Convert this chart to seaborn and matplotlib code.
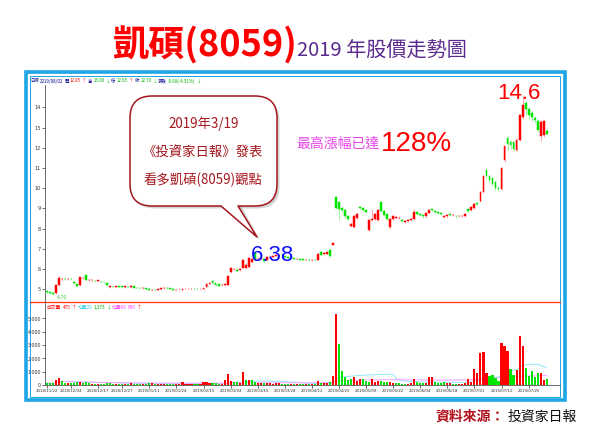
import numpy as np
import pandas as pd
import matplotlib
matplotlib.use("Agg")
import matplotlib.pyplot as plt
import seaborn as sns
from matplotlib.patches import FancyBboxPatch, Rectangle, Polygon
from matplotlib.lines import Line2D

# ---------------- data ----------------
holidays = ["2018-12-31", "2019-01-01", "2019-01-31", "2019-02-01", "2019-02-04",
            "2019-02-05", "2019-02-06", "2019-02-07", "2019-02-08", "2019-02-28",
            "2019-03-01", "2019-04-04", "2019-04-05", "2019-05-01", "2019-06-07"]
trade_dates = pd.bdate_range("2018-11-22", "2019-08-02").difference(pd.to_datetime(holidays))

opens = [4.90, 4.85, 4.82, 4.80, 5.22, 5.50, 5.52, 5.50, 5.52, 5.35,
         5.25, 5.20, 5.55, 5.70, 5.45, 5.44, 5.43, 5.42, 5.38, 5.35,
         5.30, 5.12, 5.13, 5.12, 5.14, 5.15, 5.10, 5.13, 5.10, 5.15,
         5.08, 5.06, 5.05, 5.05, 5.02, 4.95, 4.97, 4.98, 5.00, 5.05,
         5.07, 5.04, 5.02, 4.98, 4.99, 4.98, 5.01, 5.02, 5.03, 5.03,
         5.03, 5.00, 5.00, 5.13, 5.28, 5.43, 5.30, 5.25, 5.20, 5.20,
         5.22, 5.85, 6.00, 5.97, 5.95, 6.05, 6.05, 6.10, 6.35, 6.78,
         6.48, 6.52, 6.50, 6.45, 6.60, 6.62, 6.66, 6.68, 6.70, 6.65,
         6.60, 6.58, 6.55, 6.50, 6.50, 6.48, 6.45, 6.47, 6.44, 6.46,
         6.45, 6.85, 6.74, 6.76, 6.95, 7.20, 9.55, 9.30, 9.00, 8.93,
         8.60, 8.15, 8.10, 8.55, 9.05, 9.00, 8.93, 7.95, 8.45, 8.50,
         8.45, 9.30, 8.85, 8.70, 8.10, 8.50, 8.55, 8.52, 8.45, 8.35,
         8.38, 8.45, 8.50, 8.80, 8.70, 8.65, 8.60, 8.75, 8.95, 8.88,
         8.80, 8.75, 8.58, 8.60, 8.72, 8.65, 8.63, 8.60, 8.60, 8.62,
         8.95, 8.90, 9.00, 9.25, 9.35, 9.80, 10.90, 10.60, 10.50, 10.30,
         10.00, 9.95, 11.40, 12.50, 12.30, 12.30, 11.90, 12.40, 13.50, 14.20,
         13.90, 13.70, 13.45, 13.30, 12.60, 12.65, 12.85]
closes = [4.85, 4.82, 4.78, 5.20, 5.55, 5.53, 5.50, 5.53, 5.50, 5.30,
          5.15, 5.60, 5.57, 5.47, 5.46, 5.47, 5.42, 5.44, 5.37, 5.34,
          5.20, 5.15, 5.12, 5.14, 5.11, 5.10, 5.15, 5.12, 5.18, 5.08,
          5.07, 5.05, 5.06, 5.00, 4.97, 4.97, 4.96, 5.00, 5.05, 5.08,
          5.05, 5.02, 4.98, 4.98, 5.00, 5.01, 5.02, 5.03, 5.03, 5.02,
          5.00, 5.01, 5.05, 5.28, 5.32, 5.30, 5.20, 5.18, 5.22, 5.25,
          5.65, 6.05, 6.02, 5.90, 6.00, 6.45, 6.20, 6.55, 6.50, 6.45,
          6.52, 6.56, 6.38, 6.60, 6.62, 6.65, 6.70, 6.72, 6.68, 6.58,
          6.55, 6.55, 6.50, 6.51, 6.47, 6.45, 6.46, 6.43, 6.46, 6.45,
          6.75, 6.70, 6.78, 6.82, 6.65, 7.28, 9.00, 8.95, 8.90, 8.60,
          8.50, 8.22, 8.60, 8.70, 9.00, 8.92, 8.80, 8.45, 8.50, 8.70,
          8.90, 8.85, 8.65, 8.50, 8.50, 8.60, 8.58, 8.55, 8.40, 8.38,
          8.42, 8.50, 8.80, 8.70, 8.65, 8.60, 8.75, 8.90, 8.90, 8.80,
          8.75, 8.70, 8.62, 8.65, 8.68, 8.67, 8.60, 8.62, 8.63, 8.70,
          8.88, 9.05, 9.20, 9.20, 9.80, 10.60, 10.60, 10.40, 10.20, 10.00,
          9.95, 11.00, 12.10, 12.20, 12.15, 11.95, 12.40, 13.60, 14.10, 13.90,
          13.60, 13.50, 13.35, 12.90, 13.25, 13.30, 12.70]
highs = [4.92, 4.87, 4.84, 5.22, 5.65, 5.58, 5.56, 5.56, 5.55, 5.40,
         5.28, 5.63, 5.62, 5.72, 5.50, 5.50, 5.46, 5.47, 5.41, 5.38,
         5.32, 5.18, 5.16, 5.17, 5.16, 5.17, 5.18, 5.16, 5.20, 5.17,
         5.10, 5.08, 5.09, 5.07, 5.04, 5.00, 4.99, 5.03, 5.08, 5.10,
         5.09, 5.06, 5.04, 5.01, 5.02, 5.03, 5.04, 5.05, 5.06, 5.05,
         5.05, 5.03, 5.07, 5.30, 5.36, 5.45, 5.32, 5.27, 5.25, 5.28,
         5.67, 6.08, 6.05, 5.99, 6.03, 6.48, 6.30, 6.58, 6.55, 6.80,
         6.58, 6.60, 6.55, 6.63, 6.66, 6.70, 6.74, 6.76, 6.73, 6.67,
         6.62, 6.60, 6.57, 6.54, 6.52, 6.50, 6.49, 6.49, 6.49, 6.48,
         6.78, 6.87, 6.82, 6.86, 6.98, 7.30, 9.60, 9.35, 9.05, 8.96,
         8.65, 8.28, 8.65, 8.75, 9.10, 9.05, 8.96, 8.50, 8.95, 8.75,
         8.95, 9.35, 8.90, 8.75, 8.55, 8.65, 8.62, 8.60, 8.50, 8.42,
         8.46, 8.55, 8.95, 8.85, 8.75, 8.70, 8.80, 8.95, 9.00, 8.92,
         8.85, 8.80, 8.68, 8.70, 8.76, 8.72, 8.67, 8.66, 8.68, 8.75,
         9.00, 9.10, 9.25, 9.30, 9.85, 10.65, 10.95, 10.65, 10.55, 10.35,
         10.05, 11.05, 12.10, 12.60, 12.40, 12.35, 12.50, 13.65, 14.60, 14.30,
         14.00, 13.80, 13.55, 13.40, 13.35, 13.35, 13.00]
lows = [4.82, 4.78, 4.70, 4.75, 5.18, 5.46, 5.47, 5.47, 5.46, 5.27,
        5.12, 5.18, 5.50, 5.44, 5.42, 5.41, 5.40, 5.39, 5.34, 5.30,
        5.18, 5.08, 5.09, 5.10, 5.08, 5.07, 5.08, 5.09, 5.08, 5.05,
        5.04, 5.02, 5.03, 4.98, 4.95, 4.93, 4.94, 4.96, 4.98, 5.02,
        5.03, 5.00, 4.96, 4.96, 4.97, 4.96, 4.99, 5.00, 5.01, 5.00,
        4.98, 4.98, 4.98, 5.10, 5.25, 5.28, 5.17, 5.15, 5.17, 5.18,
        5.20, 5.82, 5.96, 5.87, 5.92, 6.03, 6.00, 6.08, 6.30, 6.42,
        6.45, 6.48, 6.35, 6.42, 6.57, 6.60, 6.63, 6.65, 6.65, 6.55,
        6.52, 6.52, 6.48, 6.48, 6.45, 6.43, 6.43, 6.41, 6.42, 6.43,
        6.43, 6.65, 6.70, 6.73, 6.62, 7.18, 8.95, 8.45, 8.80, 8.55,
        8.45, 8.10, 8.03, 8.50, 8.95, 8.88, 8.75, 7.90, 8.40, 8.45,
        8.40, 8.80, 8.60, 8.45, 8.00, 8.45, 8.50, 8.48, 8.35, 8.30,
        8.33, 8.40, 8.45, 8.65, 8.60, 8.55, 8.55, 8.70, 8.85, 8.75,
        8.70, 8.65, 8.52, 8.55, 8.63, 8.60, 8.55, 8.56, 8.56, 8.58,
        8.83, 8.85, 8.95, 9.15, 9.30, 9.75, 10.50, 10.30, 10.10, 9.90,
        9.85, 9.90, 11.30, 11.90, 11.95, 11.85, 11.80, 12.35, 13.40, 13.60,
        13.40, 13.30, 13.20, 12.80, 12.35, 12.55, 12.65]
volumes = [150, 120, 140, 380, 550, 300, 180, 150, 130, 160,
           200, 250, 140, 220, 120, 110, 100, 110, 100, 90,
           160, 120, 100, 90, 100, 110, 90, 80, 120, 100,
           80, 90, 80, 110, 130, 160, 90, 100, 110, 100,
           90, 80, 90, 100, 80, 200, 90, 100, 90, 80,
           90, 80, 200, 200, 180, 150, 120, 100, 90, 380,
           820, 300, 250, 200, 150, 1000, 380, 380, 380, 250,
           150, 120, 140, 160, 120, 110, 130, 120, 100, 110,
           100, 90, 100, 80, 90, 80, 70, 90, 100, 90,
           320, 150, 120, 130, 200, 680, 5300, 3100, 1050, 570,
           380, 480, 600, 320, 450, 450, 330, 200, 450, 250,
           330, 330, 250, 200, 250, 180, 150, 120, 100, 90,
           100, 120, 450, 200, 150, 120, 150, 570, 570, 200,
           150, 120, 250, 150, 120, 100, 90, 100, 110, 150,
           450, 250, 1200, 900, 2370, 2500, 900, 650, 780, 500,
           300, 3170, 2920, 2570, 1170, 780, 1100, 3670, 2920, 1300,
           700, 1050, 600, 870, 870, 400, 475]

tick_labels = ["2018/11/22", "2018/12/04", "2018/12/17", "2018/12/27", "2019/01/11",
               "2019/01/24", "2019/02/15", "2019/03/04", "2019/03/15", "2019/03/28",
               "2019/04/12", "2019/04/25", "2019/05/09", "2019/05/22", "2019/06/04",
               "2019/06/18", "2019/07/01", "2019/07/12", "2019/07/25"]
price_ticks = [5, 6, 7, 8, 9, 10, 11, 12, 13, 14]
vol_ticks = [0, 1000, 2000, 3000, 4000, 5000]

# ---------------- style ----------------
sns.set_theme(style="white")
CJK = ["Noto Sans CJK TC", "DejaVu Sans"]
NARROW = ["Liberation Sans", "DejaVu Sans"]
plt.rcParams["font.family"] = CJK
plt.rcParams["axes.unicode_minus"] = False

RED = "#ff0000"
GREEN = "#00e400"
PINK = "#ff9a9a"
LGREEN = "#8cf58c"
FRAME = "#1ea5e6"

W, H = 600, 430
fig = plt.figure(figsize=(6, 4.3), dpi=100)
fig.patch.set_facecolor("white")


def rect(x0, y0, x1, y1):
    return [x0 / W, 1 - y1 / H, (x1 - x0) / W, (y1 - y0) / H]


# background / frame layer
bg = fig.add_axes([0, 0, 1, 1], zorder=0)
bg.set_xlim(0, W)
bg.set_ylim(H, 0)
bg.axis("off")
bg.add_patch(Rectangle((25.5, 71.5), 539, 328, fill=False, ec=FRAME, lw=2.6))
bg.add_patch(Rectangle((29.5, 75.5), 530.5, 321, fill=False, ec=FRAME, lw=0.7))
bg.plot([29.5, 560], [302, 302], color="#ff3000", lw=0.9)

df = pd.DataFrame({"date": trade_dates, "open": opens, "close": closes,
                   "high": highs, "low": lows, "volume": volumes})
df["i"] = np.arange(len(df))
up = df["close"] >= df["open"]
body_col = np.where(up, RED, GREEN)
wick_col = np.where(up, PINK, LGREEN)
prev_close = df["close"].shift(1).fillna(df["open"])
vol_col = np.where(df["close"] >= prev_close, RED, GREEN)
df["ma20"] = df["volume"].rolling(20, min_periods=1).mean()
df["ma60"] = df["volume"].rolling(60, min_periods=1).mean()

XL = ((45 - 47) / 3.01, (560 - 47) / 3.01)

# ---------------- price panel ----------------
ax = fig.add_axes(rect(45, 85, 560, 302), zorder=2)
ax.patch.set_alpha(0)
ax.vlines(df["i"], df["low"], df["high"], colors=wick_col, lw=0.6, zorder=2)
ax.bar(df["i"], (df["close"] - df["open"]).abs(), bottom=np.minimum(df["open"], df["close"]),
       width=0.62, color=body_col, edgecolor=body_col, linewidth=0.35, zorder=3)
ax.set_xlim(*XL)
ax.set_ylim(4.371, 15.104)
ax.set_yticks(price_ticks)
ax.set_yticklabels([str(v) for v in price_ticks], fontsize=3.6, family="DejaVu Sans")
ax.set_xticks([])
for s in ["top", "right", "bottom"]:
    ax.spines[s].set_visible(False)
ax.spines["left"].set_color("#555555")
ax.spines["left"].set_linewidth(0.6)
ax.tick_params(axis="y", length=2, width=0.5, pad=1, colors="#333333", left=True)

imin = int(df["low"].idxmin())
ax.annotate(f"{df['low'].min():.2f}", (imin, df["low"].min()), xytext=(3, -1.5),
            textcoords="offset points", fontsize=3.4, color="#33cc33", va="center",
            ha="left", family="DejaVu Sans")
imax = int(df["high"].idxmax())
ax.annotate(f"{df['high'].max():.1f}", (imax, df["high"].max()), xytext=(-2.6, 1.5),
            textcoords="offset points", fontsize=16, color=RED, va="center", ha="center",
            family=NARROW, zorder=6)
i319 = int(np.searchsorted(df["date"], pd.Timestamp("2019-03-19")))
ax.annotate(f"{df['close'][i319]:.2f}", (i319, df["close"][i319]), xytext=(6, 4.5),
            textcoords="offset points", fontsize=16, color="#1010ff", va="center",
            ha="center", family=NARROW, zorder=6)

# ---------------- volume panel ----------------
av = fig.add_axes(rect(45, 303, 560, 385), zorder=2)
av.patch.set_alpha(0)
av.bar(df["i"], df["volume"], width=0.7, color=vol_col, linewidth=0, zorder=3)
sns.lineplot(x=df["i"], y=df["ma20"], ax=av, color="#8ee9f7", lw=0.7, zorder=2)
sns.lineplot(x=df["i"], y=df["ma60"], ax=av, color="#ff9cff", lw=0.7, zorder=2)
av.set_xlim(*XL)
av.set_ylim(0, 6147)
av.set_yticks(vol_ticks)
av.set_yticklabels([f"{v:,}" for v in vol_ticks], fontsize=3.4, family="DejaVu Sans")
tick_pos = [int(np.searchsorted(df["date"], pd.Timestamp(t.replace("/", "-")))) for t in tick_labels]
av.set_xticks(tick_pos)
av.set_xticklabels(tick_labels, fontsize=2.8, family="DejaVu Sans")
av.set_xlabel("")
av.set_ylabel("")
for s in ["top", "right"]:
    av.spines[s].set_visible(False)
for s in ["left", "bottom"]:
    av.spines[s].set_color("#555555")
    av.spines[s].set_linewidth(0.6)
av.tick_params(axis="both", length=2, width=0.5, pad=1, colors="#333333", left=True, bottom=True)

# ---------------- overlay texts ----------------
top = fig.add_axes([0, 0, 1, 1], zorder=5)
top.set_xlim(0, W)
top.set_ylim(H, 0)
top.axis("off")
top.patch.set_alpha(0)
renderer = fig.canvas.get_renderer()

# title
top.text(112, 57, "凱碩(8059)", color=RED, fontsize=26, fontweight="bold", va="baseline", ha="left")
top.text(297, 56, "2019 年股價走勢圖", color="#5b2a8e", fontsize=14.5, va="baseline", ha="left")


def text_run(x, y, parts, size):
    for t, c in parts:
        tx = top.text(x, y, t, color=c, fontsize=size, va="center", ha="left", family=CJK)
        bb = tx.get_window_extent(renderer)
        x += bb.width + 1.2


# panel headers
NAVY = "#00008b"
DG = "#00b000"
text_run(30, 81, [("日線", NAVY), ("2019/08/02", NAVY), ("開", NAVY), ("12.85", RED), ("↑", RED),
                  ("高", NAVY), ("13.00", DG), ("↓", DG), ("低", NAVY), ("12.65", DG), ("↑", RED),
                  ("收", NAVY), ("12.70", DG), ("↓", DG), ("漲跌", NAVY), ("-0.60(-4.51%)", DG),
                  ("↓", DG)], 3.2)
text_run(47, 307.5, [("成交量", RED), ("475", RED), ("↑", RED), ("均量20", "#33ccee"),
                     ("1,373", DG), ("↓", DG), ("均量60", "#ff44ff"), ("656", "#ff44ff"),
                     ("↑", RED)], 3.4)

# speech bubble
EDGE = "#a5161c"
top.add_patch(FancyBboxPatch((132.5, 98.5), 147, 110, boxstyle="round,pad=0,rounding_size=22",
                             fc="#b0b0b0", ec="none", alpha=0.55, zorder=1))
top.add_patch(Polygon([(224, 206), (260, 240), (241, 206)], closed=True, fc="#b0b0b0",
                      ec="none", alpha=0.55, zorder=1))
top.add_patch(FancyBboxPatch((130, 96), 147, 110, boxstyle="round,pad=0,rounding_size=22",
                             fc="white", ec=EDGE, lw=1.1, zorder=2))
top.add_patch(Polygon([(221, 203.5), (221, 206), (257, 237), (238, 206), (238, 203.5)],
                      closed=True, fc="white", ec="none", zorder=3))
top.add_line(Line2D([221, 257, 238], [206, 237, 206], color=EDGE, lw=1.1, zorder=4))
for y, t in [(124, "2019年3/19"), (152.5, "《投資家日報》發表"), (179.5, "看多凱碩(8059)觀點")]:
    top.text(203.5, y, t, color=EDGE, fontsize=9.6, ha="center", va="center", zorder=5)

# gain annotation
top.text(380, 144, "最高漲幅已達", color="#e845e8", fontsize=10, ha="right", va="center")
top.text(381, 151, "128%", color=RED, fontsize=20, ha="left", va="baseline", family=NARROW)

# source
top.text(435, 417, "資料來源：", color="#b0101c", fontsize=10, fontweight="bold", ha="left", va="center")
top.text(508, 417, "投資家日報", color="#111111", fontsize=10, ha="left", va="center")

fig.savefig("out.png", dpi=100)
